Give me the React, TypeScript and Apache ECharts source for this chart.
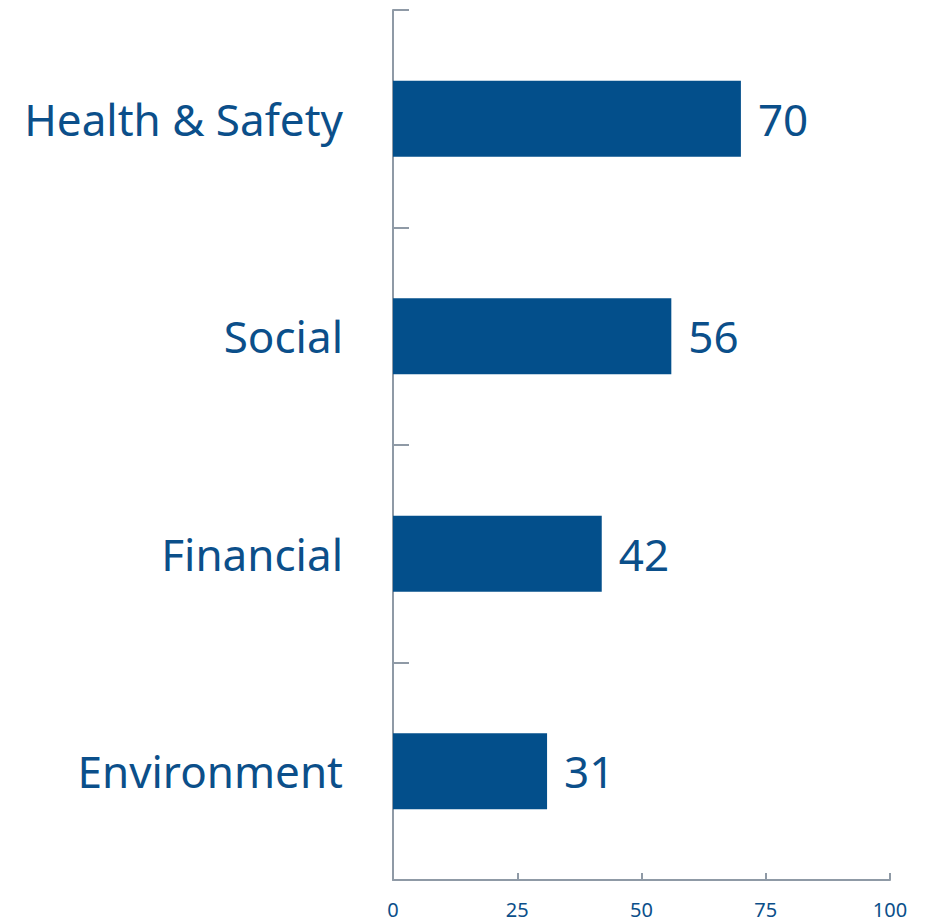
import React, { useEffect, useRef } from "react";
import * as echarts from "echarts";

const categories = ["Health & Safety", "Social", "Financial", "Environment"];
const values = [70, 56, 42, 31];
const xTicks = [0, 25, 50, 75, 100];

const BLUE = "#034f8b";
const TEXT = "#0b4f8a";
const AXIS = "#8f9aa6";
const FONT = "'Noto Sans', 'Open Sans', sans-serif";

export default function App() {
  const ref = useRef<HTMLDivElement>(null);
  useEffect(() => {
    if (!ref.current) return;
    const chart = echarts.init(ref.current, null, { renderer: "svg" });
    chart.setOption({
      animation: false,
      grid: { left: 393, right: 36, top: 10, bottom: 41, containLabel: false },
      xAxis: {
        type: "value",
        min: xTicks[0],
        max: xTicks[xTicks.length - 1],
        interval: 25,
        splitLine: { show: false },
        axisLine: { show: true, lineStyle: { color: AXIS, width: 2 } },
        axisTick: { show: true, inside: true, length: 7, lineStyle: { color: AXIS, width: 2 } },
        axisLabel: { color: TEXT, fontSize: 20, fontFamily: FONT, margin: 19 },
      },
      yAxis: {
        type: "category",
        inverse: true,
        data: categories,
        axisLine: { show: true, lineStyle: { color: AXIS, width: 2 } },
        axisTick: { show: true, inside: true, length: 16, lineStyle: { color: AXIS, width: 2 } },
        axisLabel: { color: TEXT, fontSize: 44, fontFamily: FONT, margin: 50 },
      },
      series: [
        {
          type: "bar",
          data: values,
          barWidth: 76,
          itemStyle: { color: BLUE },
          label: {
            show: true,
            position: "right",
            distance: 17,
            color: TEXT,
            fontSize: 44,
            fontFamily: FONT,
          },
        },
      ],
    });
    return () => chart.dispose();
  }, []);
  return <div ref={ref} style={{ width: 926, height: 921, position: "absolute", left: 0, top: 0 }} />;
}
